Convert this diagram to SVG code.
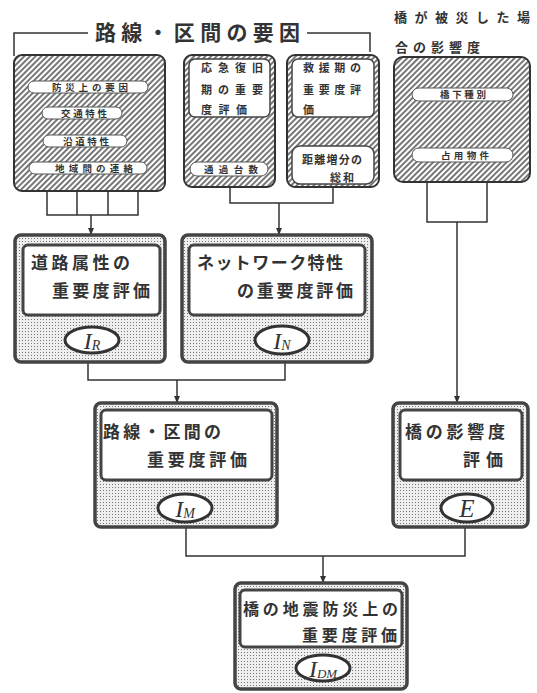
<svg xmlns="http://www.w3.org/2000/svg" width="537" height="693" viewBox="0 0 537 693">
<defs>
<pattern id="hatch" patternUnits="userSpaceOnUse" width="4" height="4" patternTransform="rotate(45)"><rect width="4" height="4" fill="#fff"/><line x1="1" y1="0" x2="1" y2="4" stroke="#4a4a4a" stroke-width="1.5"/></pattern>
<pattern id="dots" patternUnits="userSpaceOnUse" width="3" height="3"><rect width="3" height="3" fill="#eeeeee"/><rect x="1" y="1" width="1" height="1" fill="#777"/></pattern>
<marker id="arr" markerWidth="7" markerHeight="6" refX="7" refY="3" orient="auto" markerUnits="userSpaceOnUse"><path d="M0,0 L7,3 L0,6 Z" fill="#333"/></marker>
<style>
.hb{fill:url(#hatch);stroke:#333;stroke-width:2}
.pill{fill:#fff;stroke:#555;stroke-width:1}
.wb{fill:#fff;stroke:#444;stroke-width:1.5}
.ob{fill:url(#dots);stroke:#444;stroke-width:3.5}
.ib{fill:#fff;stroke:#444;stroke-width:3}
.el{fill:#fff;stroke:#333;stroke-width:3}
.cn{fill:none;stroke:#333;stroke-width:1.5}
.ar{marker-end:url(#arr)}
.t{font-family:"Noto Sans CJK JP","Noto Sans CJK SC",sans-serif;fill:#333;font-weight:bold}
.s{font-size:9.5px}
.m{font-size:11px}
.l{font-size:17px}
.h{font-size:13px}
.sym{font-family:"Liberation Serif",serif;font-style:italic;fill:#333}
</style>
</defs>
<rect width="537" height="693" fill="#fff"/>

<g id="connectors">
<path class="cn" d="M14,56 V33 H88 M307,33 H370 V52"/>
<path class="cn" d="M47,190 V215 H138 V190 M77,190 V215 M108,190 V215"/>
<path class="cn ar" d="M91,215 V235"/>
<path class="cn" d="M230,187 V203 H333 V187"/>
<path class="cn ar" d="M279,203 V235"/>
<path class="cn" d="M427,182 V222 H487 V182"/>
<path class="cn ar" d="M457,222 V403"/>
<path class="cn" d="M88,362 V380 H285 V362"/>
<path class="cn ar" d="M177,380 V403"/>
<path class="cn" d="M186,527 V556 H465 V527"/>
<path class="cn ar" d="M323,556 V583"/>
</g>

<g id="header-route">
<text class="t" x="95" y="40" font-size="21" textLength="205" lengthAdjust="spacing">路線・区間の要因</text>
</g>
<g id="header-bridge">
<text class="t h" x="394" y="22" textLength="136" lengthAdjust="spacing">橋が被災した場</text>
<text class="t h" x="395" y="52" textLength="85" lengthAdjust="spacing">合の影響度</text>
</g>

<g id="box-road-factors">
<rect class="hb" x="14" y="55" width="151" height="136" rx="8"/>
<rect class="pill" x="28" y="81" width="120" height="12" rx="6"/>
<text class="t s" x="52" y="91" textLength="76" lengthAdjust="spacing">防災上の要因</text>
<rect class="pill" x="42" y="107" width="80" height="12" rx="6"/>
<text class="t s" x="61" y="117" textLength="46" lengthAdjust="spacing">交通特性</text>
<rect class="pill" x="43" y="135" width="84" height="12" rx="6"/>
<text class="t s" x="63" y="145" textLength="46" lengthAdjust="spacing">沿道特性</text>
<rect class="pill" x="29" y="162" width="118" height="12" rx="6"/>
<text class="t s" x="55" y="172" textLength="78" lengthAdjust="spacing">地域間の連絡</text>
</g>

<g id="box-emergency">
<rect class="hb" x="184" y="55" width="91" height="132" rx="8"/>
<rect class="wb" x="189" y="59" width="81" height="58" rx="6"/>
<text class="t m" x="201" y="72" textLength="62" lengthAdjust="spacing">応急復旧</text>
<text class="t m" x="201" y="94" textLength="62" lengthAdjust="spacing">期の重要</text>
<text class="t m" x="201" y="114" textLength="46" lengthAdjust="spacing">度評価</text>
<rect class="pill" x="190" y="162" width="78" height="14" rx="7"/>
<text class="t s" x="204" y="173" textLength="54" lengthAdjust="spacing">通過台数</text>
</g>

<g id="box-rescue">
<rect class="hb" x="287" y="55" width="92" height="132" rx="8"/>
<rect class="wb" x="292" y="59" width="82" height="58" rx="6"/>
<text class="t m" x="303" y="72" textLength="58" lengthAdjust="spacing">救援期の</text>
<text class="t m" x="303" y="94" textLength="58" lengthAdjust="spacing">重要度評</text>
<text class="t m" x="303" y="114">価</text>
<rect class="wb" x="292" y="146" width="82" height="38" rx="8"/>
<text class="t m" x="302" y="164" textLength="60" lengthAdjust="spacing">距離増分の</text>
<text class="t m" x="330" y="182" textLength="24" lengthAdjust="spacing">総和</text>
</g>

<g id="box-bridge-factors">
<rect class="hb" x="394" y="57" width="136" height="125" rx="9"/>
<rect class="pill" x="412" y="88" width="101" height="13" rx="6.5"/>
<text class="t s" x="440" y="98" textLength="46" lengthAdjust="spacing">橋下種別</text>
<rect class="pill" x="412" y="148" width="101" height="14" rx="7"/>
<text class="t s" x="441" y="159" textLength="48" lengthAdjust="spacing">占用物件</text>
</g>

<g id="node-IR">
<rect class="ob" x="15" y="235" width="150" height="127" rx="6"/>
<rect class="ib" x="23" y="245" width="137" height="70" rx="5"/>
<text class="t l" x="31" y="269" textLength="99" lengthAdjust="spacing">道路属性の</text>
<text class="t l" x="52" y="297" textLength="98" lengthAdjust="spacing">重要度評価</text>
<ellipse class="el" cx="92" cy="340" rx="27" ry="13"/>
<text class="sym" x="92" y="349" text-anchor="middle" font-size="24">I<tspan font-size="14" dy="1">R</tspan></text>
</g>

<g id="node-IN">
<rect class="ob" x="182" y="235" width="190" height="127" rx="6"/>
<rect class="ib" x="189" y="245" width="176" height="70" rx="5"/>
<text class="t l" x="197" y="269" textLength="146" lengthAdjust="spacing">ネットワーク特性</text>
<text class="t l" x="237" y="297" textLength="116" lengthAdjust="spacing">の重要度評価</text>
<ellipse class="el" cx="282" cy="340" rx="27" ry="14"/>
<text class="sym" x="282" y="349" text-anchor="middle" font-size="24">I<tspan font-size="14" dy="1">N</tspan></text>
</g>

<g id="node-IM">
<rect class="ob" x="95" y="403" width="182" height="124" rx="6"/>
<rect class="ib" x="101" y="410" width="171" height="70" rx="5"/>
<text class="t l" x="103" y="438" textLength="118" lengthAdjust="spacing">路線・区間の</text>
<text class="t l" x="147" y="466" textLength="100" lengthAdjust="spacing">重要度評価</text>
<ellipse class="el" cx="185" cy="508" rx="27" ry="14"/>
<text class="sym" x="185" y="517" text-anchor="middle" font-size="24">I<tspan font-size="14" dy="1">M</tspan></text>
</g>

<g id="node-E">
<rect class="ob" x="393" y="403" width="135" height="124" rx="6"/>
<rect class="ib" x="400" y="410" width="122" height="70" rx="5"/>
<text class="t l" x="405" y="438" textLength="100" lengthAdjust="spacing">橋の影響度</text>
<text class="t l" x="463" y="466" textLength="40" lengthAdjust="spacing">評価</text>
<ellipse class="el" cx="467" cy="508" rx="26" ry="14"/>
<text class="sym" x="467" y="517" text-anchor="middle" font-size="25">E</text>
</g>

<g id="node-IDM">
<rect class="ob" x="235" y="583" width="172" height="106" rx="6"/>
<rect class="ib" x="240" y="590" width="162" height="57" rx="5"/>
<text class="t" x="243" y="615" font-size="16" textLength="155" lengthAdjust="spacing">橋の地震防災上の</text>
<text class="t" x="302" y="641" font-size="16" textLength="95" lengthAdjust="spacing">重要度評価</text>
<ellipse class="el" cx="323" cy="668" rx="27" ry="13"/>
<text class="sym" x="323" y="677" text-anchor="middle" font-size="24">I<tspan font-size="13" dy="1">DM</tspan></text>
</g>
</svg>
